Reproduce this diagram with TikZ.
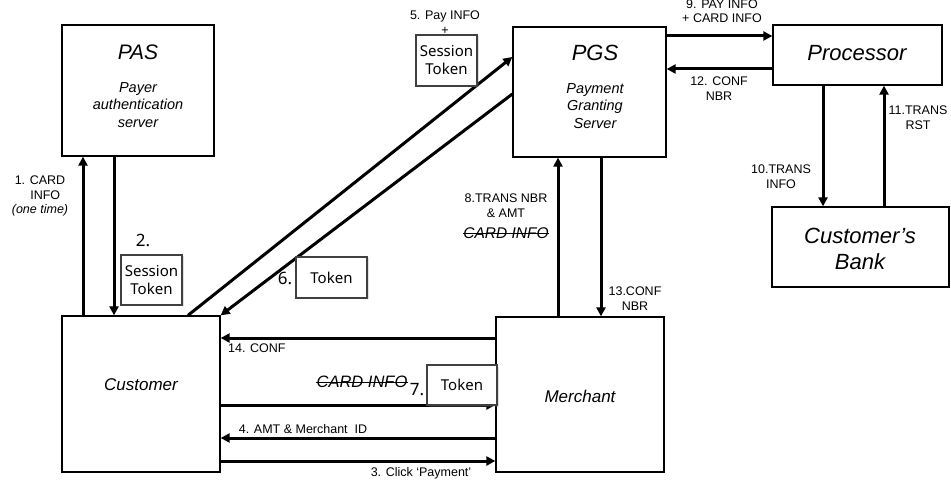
\documentclass[tikz,border=0pt]{standalone}
\usepackage{fontspec}
\setmainfont{Liberation Sans}
\newfontfamily\tokfont{Noto Sans}
\usetikzlibrary{arrows.meta,shadows}
\begin{document}
\begin{tikzpicture}[x=1pt,y=-1pt,
  box/.style={draw, line width=1.3pt, inner sep=0pt},
  arr/.style={line width=3pt, -{Triangle[length=9pt,width=9pt]}},
  lbl/.style={font=\fontsize{12.5}{14.5}\selectfont, align=center, inner sep=0pt},
  ttl/.style={font=\itshape\fontsize{22}{26}\selectfont, align=center, inner sep=0pt},
  sub/.style={font=\itshape\fontsize{14.5}{17.5}\selectfont, align=center, inner sep=0pt},
  inn/.style={font=\itshape\fontsize{17}{20}\selectfont, inner sep=0pt},
  tok/.style={draw=black!75, line width=1.5pt, fill=white, align=center, inner sep=0pt,
    font=\tokfont\fontsize{15}{18}\selectfont,
    drop shadow={opacity=0.25, shadow xshift=1.5pt, shadow yshift=-1.5pt}},
  num/.style={font=\tokfont\fontsize{17}{18}\selectfont, inner sep=0pt},
  strike/.style={line width=0.8pt},
]
\useasboundingbox (0,0) rectangle (951,481);

% main boxes
\node[box, minimum width=152pt, minimum height=131pt] (pas) at (138,90.5) {};
\node[box, minimum width=153pt, minimum height=130pt] (pgs) at (589.5,92) {};
\node[box, minimum width=169pt, minimum height=60pt] (proc) at (857.5,55) {};
\node[box, minimum width=177pt, minimum height=80pt] (bank) at (860.5,247) {};
\node[box, minimum width=158pt, minimum height=156pt] (cust) at (141,394) {};
\node[box, minimum width=168pt, minimum height=155pt] (merch) at (580,394.5) {};

% box texts
\node[ttl, font=\itshape\fontsize{21}{26}\selectfont] (pasT) at (138,52) {PAS};
\node[sub] (pasS) at (138,105) {Payer\\authentication\\server};
\node[ttl] (pgsT) at (595,53) {PGS};
\node[sub] (pgsS) at (595,106) {Payment\\Granting\\Server};
\node[ttl] (procT) at (857,53) {Processor};
\node[ttl] (bankT) at (860,249) {Customer’s\\Bank};
\node[inn] (custT) at (141,385) {Customer};
\node[inn] (merchT) at (580,396) {Merchant};

% arrows
\draw[arr] (cust.north -| 83,0) -- (pas.south -| 83,0);
\draw[arr] (pas.south -| 114,0) -- (cust.north -| 114,0);
\draw[arr] (cust.north -| 188,0) -- (pgs.west |- 0,57);
\draw[arr] (pgs.west |- 0,94) -- (cust.north east);
\draw[arr] (pgs.east |- 0,36) -- (proc.west |- 0,36);
\draw[arr] (proc.west |- 0,69) -- (pgs.east |- 0,69);
\draw[arr] (proc.south -| 823,0) -- (bank.north -| 823,0);
\draw[arr] (bank.north -| 884,0) -- (proc.south -| 884,0);
\draw[arr] (merch.north -| 558,0) -- (pgs.south -| 558,0);
\draw[arr] (pgs.south -| 601,0) -- (merch.north -| 601,0);
\draw[arr] (merch.west |- 0,338) -- (cust.east |- 0,338);
\draw[arr] (cust.east |- 0,405) -- (merch.west |- 0,405);
\draw[arr] (merch.west |- 0,438) -- (cust.east |- 0,438);
\draw[arr] (cust.east |- 0,461) -- (merch.west |- 0,461);

% token boxes
\node[tok, minimum width=61pt, minimum height=50pt] (tok2) at (151.5,280) {Session\\Token};
\node[num] (n2) at (143,240) {2.};
\node[tok, minimum width=71pt, minimum height=41pt] (tok6) at (331.5,277.5) {Token};
\node[num] (n6) at (285,278) {6.};
\node[tok, minimum width=61pt, minimum height=51pt] (tok5) at (446.5,60.5) {Session\\Token};
\node[tok, minimum width=70pt, minimum height=40pt] (tok7) at (462,385) {Token};
\node[num] (n7) at (417,390) {7.};

% labels
\node[lbl] (l1) at (40,196) {1. CARD\\\ \ \ INFO\\\textit{(one time)}};
\node[lbl] (l5) at (445,22.5) {5. Pay INFO\\+};
\node[lbl, font=\fontsize{12.5}{13.5}\selectfont] (l9) at (722,11) {9. PAY INFO\\+ CARD INFO};
\node[lbl] (l12) at (719,88.5) {12. CONF\\NBR};
\node[lbl] (l10) at (781,176.5) {10.TRANS\\INFO};
\node[lbl] (l11) at (918,117.5) {11.TRANS\\RST};
\node[lbl] (l13) at (635,298.5) {13.CONF\\NBR};
\node[lbl] (l8) at (506,205.5) {8.TRANS NBR\\\& AMT};
\node[lbl, font=\itshape\fontsize{15.5}{17}\selectfont] (ci8) at (506,233) {CARD INFO};
\draw[strike] (ci8.west) -- (ci8.east);
\node[lbl, anchor=west] (l14) at (228,348) {14. CONF};
\node[lbl, font=\itshape\fontsize{16.5}{18}\selectfont] (ci7) at (362,382) {CARD INFO};
\draw[strike] (ci7.west) -- (ci7.east);
\node[lbl] (l4) at (303,429) {4. AMT \& Merchant\ \ ID};
\node[lbl] (l3) at (421,473) {3. Click ‘Payment’};
\end{tikzpicture}
\end{document}
